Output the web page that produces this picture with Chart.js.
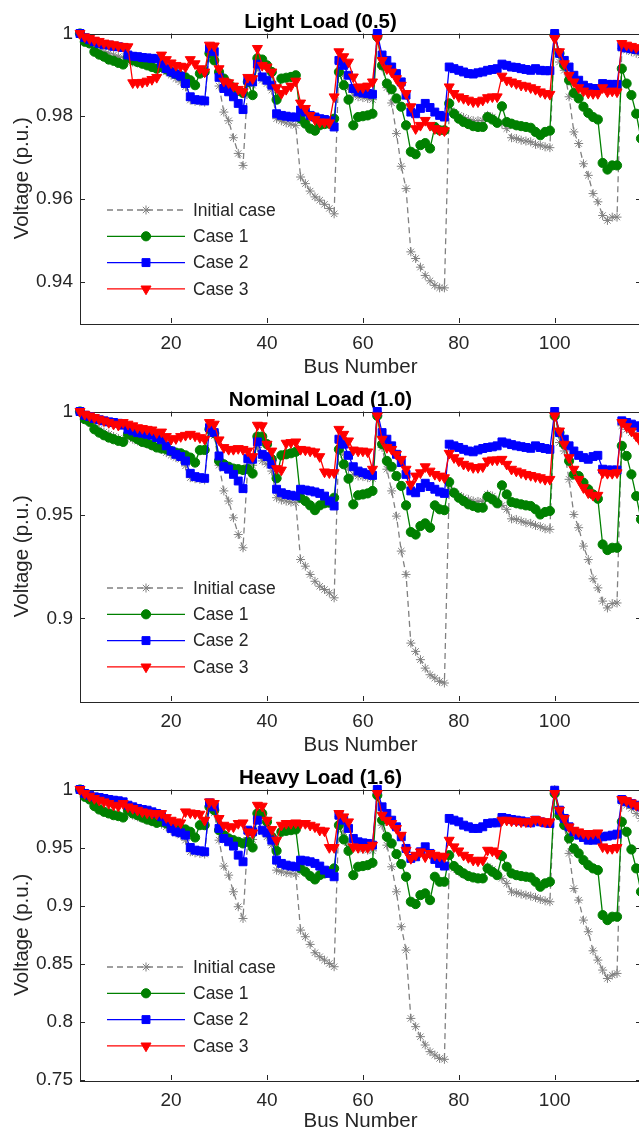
<!DOCTYPE html>
<html>
<head>
<meta charset="utf-8">
<script src="https://cdn.jsdelivr.net/npm/chart.js@4.4.1/dist/chart.umd.min.js"></script>
<style>
html, body { margin: 0; padding: 0; background: #fff; overflow: hidden; width: 639px; height: 1133px; }
canvas { position: absolute; left: 0; }
</style>
</head>
<body>
<canvas id="light" width="650" height="378" style="top:0px"></canvas>
<canvas id="nominal" width="650" height="378" style="top:378px"></canvas>
<canvas id="heavy" width="650" height="377" style="top:756px"></canvas>
<script>
// bus index on the x axis
const busNumbers = Array.from({ length: 118 }, (_, i) => i + 1);
const xTicks = [20, 40, 60, 80, 100];
const seriesNames = ['Initial case', 'Case 1', 'Case 2', 'Case 3'];

// Light load (0.5)
const lightInitial = [
  1.0000,0.9984,0.9976,0.9968,0.9961,0.9956,0.9952,0.9948,0.9944,0.9942,
  0.9935,0.9931,0.9929,0.9926,0.9923,0.9919,0.9915,0.9915,0.9907,0.9899,
  0.9891,0.9883,0.9871,0.9839,0.9836,0.9835,0.9834,0.9960,0.9944,0.9873,
  0.9810,0.9789,0.9748,0.9710,0.9681,0.9879,0.9875,0.9919,0.9887,0.9879,
  0.9863,0.9794,0.9789,0.9784,0.9781,0.9778,0.9653,0.9637,0.9619,0.9605,
  0.9597,0.9587,0.9577,0.9564,0.9931,0.9899,0.9867,0.9851,0.9847,0.9845,
  0.9843,0.9840,1.0000,0.9919,0.9869,0.9832,0.9758,0.9679,0.9625,0.9472,
  0.9456,0.9435,0.9415,0.9402,0.9391,0.9385,0.9385,0.9819,0.9810,0.9802,
  0.9797,0.9792,0.9789,0.9789,0.9790,0.9802,0.9798,0.9786,0.9781,0.9770,
  0.9748,0.9746,0.9742,0.9740,0.9738,0.9732,0.9730,0.9726,0.9724,1.0000,
  0.9931,0.9911,0.9847,0.9762,0.9734,0.9685,0.9657,0.9613,0.9593,0.9560,
  0.9548,0.9556,0.9556,0.9964,0.9960,0.9956,0.9952,0.9948];
const lightCase1 = [
  1.0000,0.9980,0.9976,0.9956,0.9949,0.9944,0.9937,0.9934,0.9929,0.9925,
  0.9942,0.9935,0.9931,0.9927,0.9923,0.9919,0.9915,0.9919,0.9913,0.9907,
  0.9902,0.9897,0.9894,0.9887,0.9875,0.9903,0.9907,0.9952,0.9935,0.9907,
  0.9891,0.9879,0.9869,0.9861,0.9856,0.9883,0.9851,0.9940,0.9937,0.9923,
  0.9907,0.9840,0.9891,0.9893,0.9895,0.9899,0.9794,0.9782,0.9770,0.9765,
  0.9778,0.9781,0.9782,0.9794,0.9907,0.9875,0.9840,0.9778,0.9798,0.9800,
  0.9802,0.9806,0.9992,0.9923,0.9879,0.9865,0.9843,0.9823,0.9778,0.9714,
  0.9708,0.9730,0.9735,0.9722,0.9774,0.9766,0.9766,0.9831,0.9806,0.9794,
  0.9786,0.9781,0.9776,0.9774,0.9774,0.9798,0.9792,0.9784,0.9824,0.9786,
  0.9782,0.9778,0.9776,0.9774,0.9772,0.9762,0.9754,0.9762,0.9765,0.9996,
  0.9952,0.9923,0.9887,0.9856,0.9843,0.9823,0.9808,0.9798,0.9792,0.9687,
  0.9671,0.9681,0.9681,0.9915,0.9879,0.9851,0.9806,0.9746];
const lightCase2 = [
  1.0000,0.9990,0.9985,0.9980,0.9976,0.9973,0.9972,0.9969,0.9968,0.9966,
  0.9948,0.9945,0.9944,0.9942,0.9941,0.9940,0.9939,0.9927,0.9915,0.9907,
  0.9902,0.9897,0.9879,0.9847,0.9840,0.9839,0.9837,0.9964,0.9956,0.9894,
  0.9867,0.9859,0.9847,0.9831,0.9816,0.9887,0.9883,0.9926,0.9895,0.9887,
  0.9875,0.9806,0.9802,0.9800,0.9798,0.9798,0.9815,0.9810,0.9802,0.9798,
  0.9794,0.9792,0.9789,0.9774,0.9935,0.9923,0.9899,0.9867,0.9859,0.9856,
  0.9855,0.9853,1.0000,0.9948,0.9935,0.9919,0.9903,0.9883,0.9851,0.9810,
  0.9806,0.9819,0.9831,0.9821,0.9810,0.9802,0.9798,0.9919,0.9915,0.9911,
  0.9907,0.9903,0.9902,0.9905,0.9907,0.9911,0.9913,0.9915,0.9926,0.9923,
  0.9919,0.9918,0.9915,0.9913,0.9911,0.9915,0.9911,0.9910,0.9910,1.0000,
  0.9952,0.9935,0.9919,0.9899,0.9887,0.9875,0.9869,0.9867,0.9867,0.9879,
  0.9877,0.9877,0.9877,0.9968,0.9965,0.9963,0.9961,0.9960];
const lightCase3 = [
  1.0000,0.9992,0.9988,0.9984,0.9981,0.9977,0.9975,0.9973,0.9970,0.9969,
  0.9968,0.9881,0.9881,0.9882,0.9885,0.9889,0.9894,0.9948,0.9937,0.9929,
  0.9923,0.9921,0.9919,0.9937,0.9927,0.9915,0.9907,0.9972,0.9970,0.9915,
  0.9885,0.9881,0.9873,0.9865,0.9859,0.9894,0.9891,0.9964,0.9923,0.9919,
  0.9907,0.9869,0.9855,0.9865,0.9873,0.9885,0.9832,0.9819,0.9802,0.9792,
  0.9786,0.9786,0.9784,0.9847,0.9956,0.9944,0.9931,0.9895,0.9871,0.9869,
  0.9873,0.9883,0.9988,0.9935,0.9915,0.9907,0.9891,0.9875,0.9855,0.9823,
  0.9770,0.9778,0.9790,0.9778,0.9770,0.9766,0.9765,0.9871,0.9855,0.9847,
  0.9843,0.9839,0.9835,0.9835,0.9839,0.9845,0.9847,0.9847,0.9897,0.9887,
  0.9883,0.9879,0.9875,0.9873,0.9869,0.9865,0.9859,0.9855,0.9853,0.9988,
  0.9956,0.9927,0.9899,0.9883,0.9869,0.9861,0.9856,0.9855,0.9855,0.9869,
  0.9859,0.9861,0.9859,0.9976,0.9972,0.9969,0.9966,0.9964];

// Nominal load (1.0)
const nominalInitial = [
  1.0000,0.9971,0.9955,0.9931,0.9914,0.9901,0.9890,0.9879,0.9869,0.9863,
  0.9874,0.9866,0.9858,0.9850,0.9842,0.9834,0.9826,0.9817,0.9801,0.9788,
  0.9777,0.9769,0.9737,0.9680,0.9675,0.9672,0.9669,0.9914,0.9882,0.9740,
  0.9616,0.9567,0.9486,0.9405,0.9341,0.9745,0.9740,0.9826,0.9761,0.9745,
  0.9712,0.9583,0.9572,0.9567,0.9562,0.9559,0.9284,0.9252,0.9212,0.9179,
  0.9155,0.9139,0.9123,0.9099,0.9858,0.9793,0.9721,0.9696,0.9688,0.9685,
  0.9680,0.9675,1.0000,0.9826,0.9721,0.9616,0.9494,0.9325,0.9212,0.8880,
  0.8840,0.8800,0.8759,0.8727,0.8711,0.8695,0.8687,0.9624,0.9611,0.9595,
  0.9583,0.9575,0.9567,0.9565,0.9567,0.9599,0.9591,0.9567,0.9546,0.9527,
  0.9481,0.9478,0.9470,0.9462,0.9459,0.9449,0.9443,0.9433,0.9430,1.0000,
  0.9850,0.9809,0.9672,0.9502,0.9438,0.9349,0.9284,0.9191,0.9147,0.9083,
  0.9050,0.9071,0.9074,0.9931,0.9914,0.9898,0.9882,0.9866];
const nominalCase1 = [
  1.0000,0.9963,0.9950,0.9914,0.9898,0.9885,0.9874,0.9866,0.9858,0.9853,
  0.9890,0.9879,0.9866,0.9853,0.9847,0.9837,0.9826,0.9821,0.9817,0.9809,
  0.9801,0.9798,0.9788,0.9777,0.9753,0.9813,0.9814,0.9914,0.9895,0.9761,
  0.9745,0.9733,0.9724,0.9721,0.9717,0.9721,0.9700,0.9879,0.9879,0.9842,
  0.9769,0.9677,0.9788,0.9793,0.9798,0.9805,0.9583,0.9567,0.9546,0.9523,
  0.9546,0.9556,0.9559,0.9583,0.9817,0.9745,0.9675,0.9551,0.9595,0.9599,
  0.9604,0.9616,0.9979,0.9842,0.9761,0.9733,0.9688,0.9640,0.9546,0.9417,
  0.9405,0.9446,0.9459,0.9438,0.9546,0.9527,0.9523,0.9659,0.9607,0.9583,
  0.9567,0.9551,0.9543,0.9535,0.9535,0.9588,0.9575,0.9556,0.9643,0.9599,
  0.9562,0.9556,0.9551,0.9546,0.9543,0.9527,0.9502,0.9514,0.9519,0.9979,
  0.9898,0.9842,0.9761,0.9696,0.9688,0.9656,0.9624,0.9599,0.9578,0.9357,
  0.9330,0.9341,0.9341,0.9834,0.9785,0.9696,0.9591,0.9478];
const nominalCase2 = [
  1.0000,0.9982,0.9976,0.9966,0.9960,0.9955,0.9950,0.9947,0.9943,0.9934,
  0.9914,0.9906,0.9898,0.9895,0.9890,0.9885,0.9874,0.9863,0.9834,0.9809,
  0.9793,0.9782,0.9761,0.9701,0.9685,0.9680,0.9677,0.9922,0.9898,0.9785,
  0.9733,0.9721,0.9696,0.9664,0.9627,0.9772,0.9769,0.9853,0.9793,0.9782,
  0.9745,0.9624,0.9607,0.9599,0.9595,0.9591,0.9624,0.9620,0.9616,0.9611,
  0.9604,0.9591,0.9567,0.9543,0.9866,0.9842,0.9788,0.9733,0.9712,0.9704,
  0.9696,0.9691,1.0000,0.9898,0.9866,0.9834,0.9793,0.9753,0.9696,0.9616,
  0.9607,0.9632,0.9653,0.9637,0.9624,0.9611,0.9604,0.9842,0.9834,0.9826,
  0.9817,0.9809,0.9805,0.9814,0.9821,0.9826,0.9829,0.9834,0.9853,0.9847,
  0.9840,0.9834,0.9830,0.9826,0.9822,0.9834,0.9826,0.9821,0.9817,1.0000,
  0.9898,0.9866,0.9834,0.9809,0.9788,0.9777,0.9769,0.9782,0.9788,0.9721,
  0.9717,0.9717,0.9717,0.9955,0.9947,0.9939,0.9931,0.9922];
const nominalCase3 = [
  1.0000,0.9987,0.9979,0.9971,0.9963,0.9955,0.9947,0.9939,0.9934,0.9947,
  0.9939,0.9931,0.9922,0.9918,0.9914,0.9911,0.9898,0.9901,0.9879,0.9866,
  0.9869,0.9879,0.9885,0.9890,0.9882,0.9874,0.9866,0.9947,0.9939,0.9863,
  0.9826,0.9817,0.9817,0.9821,0.9817,0.9809,0.9782,0.9934,0.9931,0.9842,
  0.9809,0.9724,0.9717,0.9847,0.9850,0.9853,0.9817,0.9814,0.9809,0.9805,
  0.9782,0.9708,0.9704,0.9704,0.9914,0.9890,0.9858,0.9814,0.9809,0.9809,
  0.9805,0.9721,0.9979,0.9866,0.9826,0.9817,0.9793,0.9769,0.9721,0.9648,
  0.9688,0.9704,0.9733,0.9712,0.9696,0.9688,0.9680,0.9798,0.9777,0.9761,
  0.9745,0.9737,0.9729,0.9729,0.9733,0.9761,0.9766,0.9766,0.9769,0.9745,
  0.9721,0.9712,0.9704,0.9696,0.9691,0.9685,0.9680,0.9672,0.9672,0.9979,
  0.9906,0.9842,0.9777,0.9721,0.9672,0.9632,0.9607,0.9595,0.9595,0.9704,
  0.9701,0.9701,0.9704,0.9947,0.9927,0.9906,0.9882,0.9850];

// Heavy load (1.6)
const heavyInitial = [
  1.0000,0.9943,0.9914,0.9874,0.9851,0.9828,0.9808,0.9794,0.9779,0.9765,
  0.9794,0.9779,0.9765,0.9751,0.9736,0.9722,0.9713,0.9702,0.9679,0.9650,
  0.9627,0.9607,0.9564,0.9464,0.9455,0.9450,0.9444,0.9857,0.9799,0.9564,
  0.9341,0.9263,0.9120,0.8991,0.8890,0.9587,0.9570,0.9751,0.9636,0.9593,
  0.9521,0.9306,0.9292,0.9283,0.9278,0.9272,0.8790,0.8733,0.8667,0.8595,
  0.8561,0.8532,0.8503,0.8475,0.9765,0.9636,0.9521,0.9501,0.9493,0.9484,
  0.9478,0.9472,1.0000,0.9693,0.9521,0.9335,0.9120,0.8819,0.8618,0.8030,
  0.7959,0.7873,0.7801,0.7744,0.7715,0.7686,0.7678,0.9341,0.9321,0.9292,
  0.9272,0.9255,0.9243,0.9235,0.9235,0.9335,0.9312,0.9278,0.9235,0.9192,
  0.9120,0.9111,0.9100,0.9091,0.9083,0.9071,0.9054,0.9042,0.9034,1.0000,
  0.9765,0.9693,0.9450,0.9148,0.9048,0.8876,0.8776,0.8612,0.8532,0.8446,
  0.8374,0.8403,0.8417,0.9894,0.9865,0.9837,0.9794,0.9751];
const heavyCase1 = [
  1.0000,0.9937,0.9914,0.9857,0.9828,0.9808,0.9794,0.9779,0.9771,0.9759,
  0.9822,0.9794,0.9779,0.9759,0.9742,0.9730,0.9713,0.9722,0.9708,0.9693,
  0.9679,0.9665,0.9656,0.9636,0.9587,0.9693,0.9693,0.9851,0.9822,0.9650,
  0.9607,0.9579,0.9564,0.9550,0.9536,0.9550,0.9501,0.9794,0.9794,0.9722,
  0.9593,0.9472,0.9636,0.9644,0.9650,0.9656,0.9321,0.9292,0.9255,0.9226,
  0.9263,0.9278,0.9292,0.9321,0.9693,0.9570,0.9472,0.9263,0.9335,0.9341,
  0.9349,0.9369,0.9951,0.9736,0.9593,0.9536,0.9444,0.9358,0.9249,0.9034,
  0.9014,0.9091,0.9106,0.9048,0.9249,0.9206,0.9206,0.9435,0.9341,0.9306,
  0.9278,0.9255,0.9243,0.9235,0.9235,0.9321,0.9292,0.9263,0.9427,0.9335,
  0.9278,0.9263,0.9255,0.9249,0.9243,0.9206,0.9163,0.9192,0.9206,0.9966,
  0.9779,0.9693,0.9579,0.9493,0.9450,0.9392,0.9349,0.9321,0.9306,0.8919,
  0.8876,0.8905,0.8905,0.9722,0.9636,0.9484,0.9321,0.9120];
const heavyCase2 = [
  1.0000,0.9966,0.9951,0.9937,0.9931,0.9923,0.9914,0.9908,0.9903,0.9894,
  0.9865,0.9851,0.9837,0.9828,0.9822,0.9808,0.9794,0.9765,0.9722,0.9665,
  0.9636,0.9627,0.9607,0.9501,0.9478,0.9472,0.9464,0.9885,0.9851,0.9665,
  0.9579,0.9550,0.9513,0.9435,0.9378,0.9650,0.9636,0.9736,0.9650,0.9627,
  0.9564,0.9392,0.9364,0.9349,0.9341,0.9335,0.9392,0.9386,0.9378,0.9364,
  0.9341,0.9306,0.9278,0.9249,0.9779,0.9736,0.9665,0.9579,0.9550,0.9541,
  0.9536,0.9521,1.0000,0.9851,0.9794,0.9736,0.9679,0.9593,0.9493,0.9407,
  0.9421,0.9464,0.9507,0.9450,0.9398,0.9364,0.9341,0.9751,0.9736,0.9722,
  0.9693,0.9679,0.9665,0.9665,0.9679,0.9708,0.9713,0.9713,0.9759,0.9751,
  0.9742,0.9736,0.9730,0.9722,0.9713,0.9736,0.9722,0.9713,0.9708,0.9994,
  0.9822,0.9751,0.9679,0.9636,0.9607,0.9587,0.9564,0.9564,0.9570,0.9593,
  0.9599,0.9607,0.9616,0.9914,0.9894,0.9880,0.9865,0.9851];
const heavyCase3 = [
  1.0000,0.9966,0.9943,0.9923,0.9908,0.9894,0.9880,0.9865,0.9857,0.9880,
  0.9851,0.9837,0.9822,0.9808,0.9799,0.9794,0.9788,0.9794,0.9759,0.9736,
  0.9722,0.9713,0.9808,0.9799,0.9794,0.9788,0.9736,0.9894,0.9880,0.9751,
  0.9693,0.9679,0.9679,0.9708,0.9713,0.9636,0.9627,0.9865,0.9857,0.9736,
  0.9656,0.9564,0.9693,0.9708,0.9708,0.9713,0.9708,0.9708,0.9693,0.9679,
  0.9650,0.9644,0.9501,0.9501,0.9794,0.9765,0.9722,0.9507,0.9501,0.9501,
  0.9501,0.9521,0.9966,0.9779,0.9736,0.9708,0.9665,0.9607,0.9478,0.9407,
  0.9435,0.9464,0.9421,0.9450,0.9435,0.9427,0.9421,0.9564,0.9507,0.9472,
  0.9435,0.9415,0.9392,0.9386,0.9392,0.9478,0.9472,0.9450,0.9736,0.9736,
  0.9730,0.9728,0.9722,0.9722,0.9722,0.9742,0.9730,0.9722,0.9722,0.9966,
  0.9822,0.9751,0.9679,0.9650,0.9636,0.9622,0.9616,0.9622,0.9627,0.9507,
  0.9493,0.9493,0.9501,0.9914,0.9903,0.9885,0.9865,0.9837];

const lightTicks = [0.94, 0.96, 0.98, 1];
const nominalTicks = [0.9, 0.95, 1];
const heavyTicks = [0.75, 0.8, 0.85, 0.9, 0.95, 1];

const FONT = '"Liberation Sans", Arial, Helvetica, sans-serif';
const TEXT = '#262626';
Chart.defaults.font.family = FONT;

// line / marker look of each series (MATLAB style)
const styles = [
  { color: '#808080', dash: [6, 4], point: 'star', radius: 4.5, rot: 0 },
  { color: '#008000', dash: [], point: 'circle', radius: 4.6, rot: 0 },
  { color: '#0000ff', dash: [], point: 'rect', radius: 5.6, rot: 0 },
  { color: '#ff0000', dash: [], point: 'triangle', radius: 5.8, rot: 180 }
];

// box around the axes with inward tick marks
const matlabAxes = {
  id: 'matlabAxes',
  beforeDatasetsDraw(chart) {
    const { ctx, chartArea: a, scales: { x, y } } = chart;
    const len = 5;
    ctx.save();
    ctx.strokeStyle = TEXT;
    ctx.lineWidth = 1;
    ctx.strokeRect(Math.round(a.left) + 0.5, Math.round(a.top) + 0.5,
      Math.round(a.right - a.left), Math.round(a.bottom - a.top));
    ctx.beginPath();
    x.ticks.forEach(t => {
      const px = Math.round(x.getPixelForValue(t.value)) + 0.5;
      ctx.moveTo(px, a.bottom); ctx.lineTo(px, a.bottom - len);
      ctx.moveTo(px, a.top); ctx.lineTo(px, a.top + len);
    });
    y.ticks.forEach(t => {
      const py = Math.round(y.getPixelForValue(t.value)) + 0.5;
      ctx.moveTo(a.left, py); ctx.lineTo(a.left + len, py);
      ctx.moveTo(a.right, py); ctx.lineTo(a.right - len, py);
    });
    ctx.stroke();
    ctx.restore();
  }
};

// legend inside the lower-left corner, no frame
const insideLegend = {
  id: 'insideLegend',
  afterDatasetsDraw(chart) {
    const { ctx, chartArea: a } = chart;
    ctx.save();
    chart.data.datasets.forEach((ds, i) => {
      const yy = a.bottom - 113 + i * 26.3;
      ctx.strokeStyle = ds.borderColor;
      ctx.lineWidth = ds.borderWidth;
      ctx.setLineDash(ds.borderDash);
      ctx.beginPath();
      ctx.moveTo(a.left + 27, yy);
      ctx.lineTo(a.left + 105, yy);
      ctx.stroke();
      ctx.setLineDash([]);
      ctx.fillStyle = ds.pointBackgroundColor;
      ctx.strokeStyle = ds.pointBorderColor;
      ctx.lineWidth = 1;
      Chart.helpers.drawPoint(ctx, {
        pointStyle: ds.pointStyle, radius: ds.pointRadius,
        rotation: ds.pointRotation, borderWidth: 1
      }, a.left + 66, yy);
      ctx.fillStyle = TEXT;
      ctx.font = '17.5px ' + FONT;
      ctx.textAlign = 'left';
      ctx.textBaseline = 'middle';
      ctx.fillText(ds.label, a.left + 113, yy + 1);
    });
    ctx.restore();
  }
};

function drawPanel(id, title, yMin, yTicks, series, axisHeight, padBottom) {
  const datasets = series.map((values, i) => ({
    label: seriesNames[i],
    data: values.map((v, k) => ({ x: busNumbers[k], y: v })),
    borderColor: styles[i].color,
    borderWidth: 1.3,
    borderDash: styles[i].dash,
    pointStyle: styles[i].point,
    pointRadius: styles[i].radius,
    pointRotation: styles[i].rot,
    pointBackgroundColor: styles[i].color,
    pointBorderColor: styles[i].color,
    pointBorderWidth: 1,
    tension: 0,
    clip: false,
    order: 4 - i
  }));

  new Chart(document.getElementById(id), {
    type: 'line',
    data: { datasets: datasets },
    options: {
      responsive: false,
      animation: false,
      devicePixelRatio: 1,
      layout: { padding: { top: 12, left: 0, right: 9, bottom: padBottom } },
      plugins: {
        legend: { display: false },
        tooltip: { enabled: false },
        title: {
          display: true,
          text: title,
          color: '#000',
          font: { size: 20.5, weight: 'bold', lineHeight: 1 },
          padding: { top: 0, bottom: 1 }
        }
      },
      scales: {
        x: {
          type: 'linear',
          min: 1,
          max: 118,
          afterBuildTicks: s => { s.ticks = xTicks.map(v => ({ value: v })); },
          afterFit: s => { s.height = axisHeight; },
          grid: { display: false, drawTicks: false },
          border: { display: false },
          ticks: { color: TEXT, font: { size: 19 }, padding: 9, maxRotation: 0 },
          title: {
            display: true, text: 'Bus Number', color: TEXT,
            font: { size: 20.5, lineHeight: 1 }, padding: { top: 0, bottom: 0 }
          }
        },
        y: {
          min: yMin,
          max: 1,
          afterBuildTicks: s => { s.ticks = yTicks.map(v => ({ value: v })); },
          afterFit: s => { s.width = 80; },
          grid: { display: false, drawTicks: false },
          border: { display: false },
          ticks: { color: TEXT, font: { size: 19 }, padding: 7, callback: v => String(+v.toFixed(2)) },
          title: {
            display: true, text: 'Voltage (p.u.)', color: TEXT,
            font: { size: 20.5, lineHeight: 1 }, padding: { top: 12, bottom: 0 }
          }
        }
      }
    },
    plugins: [matlabAxes, insideLegend]
  });
}

drawPanel('light', 'Light Load (0.5)', 0.93, lightTicks,
  [lightInitial, lightCase1, lightCase2, lightCase3], 55, 0);
drawPanel('nominal', 'Nominal Load (1.0)', 0.86, nominalTicks,
  [nominalInitial, nominalCase1, nominalCase2, nominalCase3], 55, 0);
drawPanel('heavy', 'Heavy Load (1.6)', 0.75, heavyTicks,
  [heavyInitial, heavyCase1, heavyCase2, heavyCase3], 52, 1);
</script>
</body>
</html>
